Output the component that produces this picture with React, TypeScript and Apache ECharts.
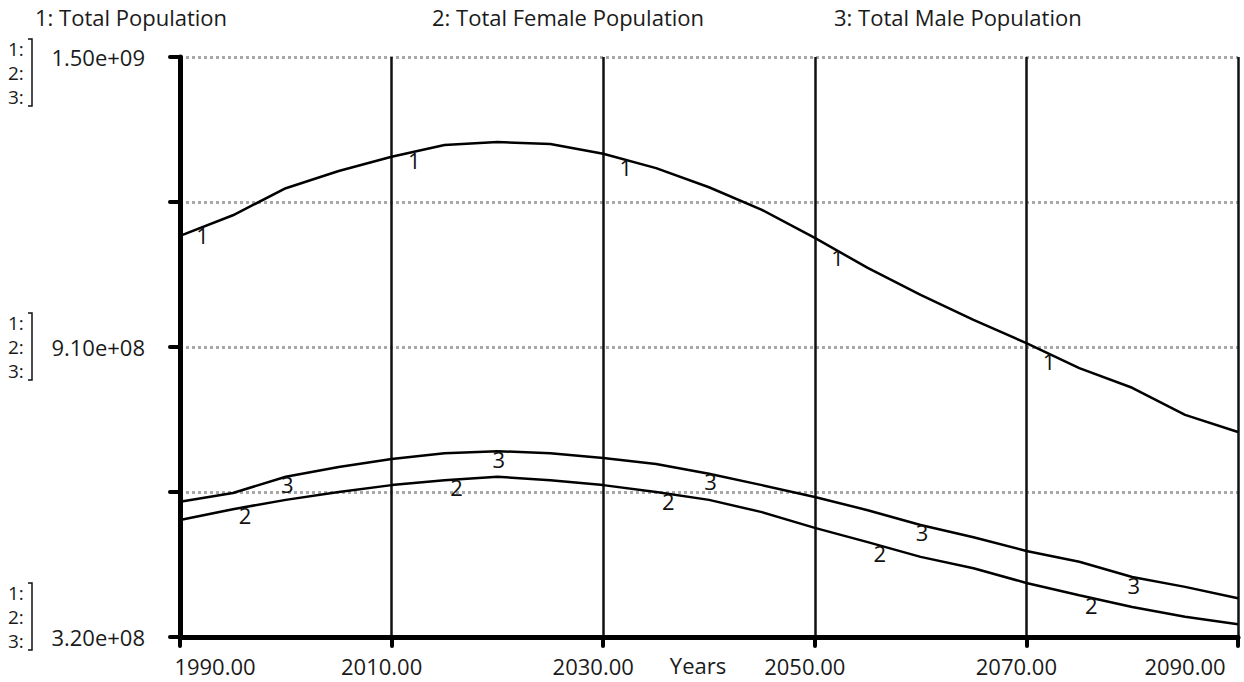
import React, { useEffect, useRef } from "react";
import * as echarts from "echarts";

// ---- data (population in millions of persons) ----
const YEARS = [1990, 1995, 2000, 2005, 2010, 2015, 2020, 2025, 2030, 2035, 2040, 2045, 2050, 2055, 2060, 2065, 2070, 2075, 2080, 2085, 2090];
const TOTAL_M = [1136, 1178, 1233, 1268, 1297, 1321, 1327, 1323, 1303, 1274, 1235, 1189, 1132, 1071, 1016, 965, 918, 867, 827, 772, 737];
const FEMALE_M = [558, 580, 599, 615, 629, 639, 646, 639, 629, 615, 599, 574, 542, 513, 483, 460, 430, 405, 381, 361, 346];
const MALE_M = [595, 613, 646, 666, 682, 694, 698, 694, 684, 672, 652, 629, 605, 578, 548, 523, 495, 473, 442, 422, 399];

const SERIES_NAMES = ["Total Population", "Total Female Population", "Total Male Population"];
const LABEL_YEARS_1 = [1992, 2012, 2032, 2052, 2072];
const LABEL_YEARS_2 = [1996, 2016, 2036, 2056, 2076];
const LABEL_YEARS_3 = [2000, 2020, 2040, 2060, 2080];

const X_MIN = 1990;
const X_MAX = 2090;
const X_STEP = 20;
const Y_MIN = 3.2e8;
const Y_MAX = 1.5e9;
const Y_STEP = 2.95e8;
const Y_LABELLED = [3.2e8, 9.1e8, 1.5e9];

const FONT = "Open Sans";
const FS = 22;
const TXT = "#1a1a1a";

function interp(xs: number[], ys: number[], x: number) {
  for (let i = 0; i < xs.length - 1; i++) {
    if (x >= xs[i] && x <= xs[i + 1]) {
      const t = (x - xs[i]) / (xs[i + 1] - xs[i]);
      return ys[i] + t * (ys[i + 1] - ys[i]);
    }
  }
  return ys[ys.length - 1];
}

function sci(v: number) {
  const e = Math.floor(Math.log10(v));
  const m = v / Math.pow(10, e);
  return `${m.toFixed(2)}e+${String(e).padStart(2, "0")}`;
}

export default function App() {
  const ref = useRef<HTMLDivElement>(null);
  useEffect(() => {
    if (!ref.current) return;
    const chart = echarts.init(ref.current, undefined, { renderer: "svg" });
    const allVals = [TOTAL_M, FEMALE_M, MALE_M];
    const labelYears = [LABEL_YEARS_1, LABEL_YEARS_2, LABEL_YEARS_3];

    const series = SERIES_NAMES.map((name, si) => {
      const vals = allVals[si].map((v) => v * 1e6);
      return {
        name,
        type: "line",
        showSymbol: false,
        symbol: "none",
        color: "#000",
        lineStyle: { color: "#000", width: 2.5 },
        itemStyle: { color: "#000" },
        data: YEARS.map((y, i) => [y - X_MIN, vals[i] - Y_MIN]),
        markPoint: {
          symbol: "circle",
          symbolSize: 1,
          itemStyle: { color: "rgba(0,0,0,0)", borderWidth: 0 },
          label: {
            show: true,
            position: [2, 8],
            align: "center",
            verticalAlign: "middle",
            formatter: String(si + 1),
            fontSize: FS,
            fontFamily: FONT,
            color: "#111",
            textBorderWidth: 0,
            textBorderColor: "none",
            textShadowBlur: 0,
          },
          data: labelYears[si].map((yr) => ({
            coord: [yr - X_MIN, interp(YEARS, vals, yr) - Y_MIN],
          })),
        },
      };
    });

    const legendLeft = [30, 427, 829];
    const legends = SERIES_NAMES.map((name, i) => ({
      data: [name],
      left: legendLeft[i],
      top: 6,
      padding: 0,
      icon: "rect",
      itemWidth: 0,
      itemHeight: 0,
      selectedMode: false,
      formatter: (n: string) => `${i + 1}: ${n}`,
      textStyle: { fontSize: FS, fontFamily: FONT, color: TXT },
    }));

    // centre line of each "1:/2:/3:" block, and the bracket extents
    const bracketGroups = [
      { cy: 73, top: 39, bottom: 106 },
      { cy: 347, top: 313, bottom: 380 },
      { cy: 617, top: 583, bottom: 650 },
    ];
    const graphics: any[] = [];
    bracketGroups.forEach((g) => {
      graphics.push({
        type: "text",
        x: 8,
        y: g.cy,
        style: {
          text: "1:\n2:\n3:",
          fontSize: 19,
          lineHeight: 24,
          fontFamily: FONT,
          fill: TXT,
          verticalAlign: "middle",
        },
      });
      graphics.push({
        type: "polyline",
        shape: { points: [[28, g.top], [32, g.top], [32, g.bottom], [28, g.bottom]] },
        style: { stroke: "#111", lineWidth: 1.5, fill: null },
      });
    });

    const richBase = { fontSize: FS, fontFamily: FONT, color: TXT };

    chart.setOption({
      animation: false,
      backgroundColor: "#fff",
      legend: legends,
      grid: { left: 180, right: 6, top: 57, bottom: 45, containLabel: false, outerBoundsMode: "none" },
      xAxis: {
        type: "value",
        min: 0,
        max: X_MAX - X_MIN,
        interval: X_STEP,
        name: "Years",
        nameLocation: "middle",
        nameGap: 17,
        nameMoveOverlap: false,
        nameTextStyle: { fontSize: FS, fontFamily: FONT, color: TXT, padding: [0, 22, 0, 0], verticalAlign: "top" },
        axisLine: { lineStyle: { color: "#000", width: 5 } },
        axisTick: { inside: false, length: 9, lineStyle: { color: "#000", width: 4, cap: "round" } },
        splitLine: { show: true, lineStyle: { color: "#111", width: 2.5 } },
        axisLabel: {
          margin: 18,
          showMinLabel: true,
          showMaxLabel: true,
          formatter: (v: number) => {
            const s = (v + X_MIN).toFixed(2);
            if (v === 0) return `{first|${s}}`;
            if (v === X_MAX - X_MIN) return `{last|${s}}`;
            return `{mid|${s}}`;
          },
          rich: {
            first: { ...richBase, padding: [0, 0, 0, 70] },
            mid: { ...richBase, padding: [0, 20, 0, 0] },
            last: { ...richBase, padding: [0, 106, 0, 0] },
          },
        },
      },
      yAxis: {
        type: "value",
        min: 0,
        max: Y_MAX - Y_MIN,
        interval: Y_STEP,
        axisLine: { show: true, lineStyle: { color: "#000", width: 5 } },
        axisTick: { show: true, inside: false, length: 10, lineStyle: { color: "#000", width: 4, cap: "round" } },
        splitLine: { show: true, lineStyle: { color: "#a8a8a8", width: 3, type: "dotted" } },
        axisLabel: {
          margin: 35,
          showMinLabel: true,
          showMaxLabel: true,
          fontSize: FS,
          fontFamily: FONT,
          color: TXT,
          formatter: (v: number) => {
            const real = v + Y_MIN;
            return Y_LABELLED.some((l) => Math.abs(l - real) < 1) ? sci(real) : "";
          },
        },
      },
      graphic: graphics,
      series,
    });
    return () => chart.dispose();
  }, []);
  return <div ref={ref} style={{ position: "fixed", left: 0, top: 0, width: 1244, height: 682 }} />;
}
